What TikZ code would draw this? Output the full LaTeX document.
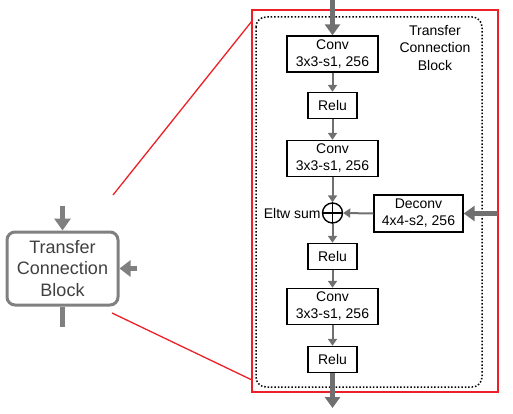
\documentclass[tikz,border=0pt]{standalone}
\usepackage{fontspec}
\setmainfont{Liberation Sans}
\usetikzlibrary{positioning,calc,arrows.meta}
\definecolor{FlowGray}{RGB}{112,112,112}
\definecolor{FrameRed}{RGB}{236,32,40}
\definecolor{BlockGray}{RGB}{128,128,128}
\definecolor{TextGray}{RGB}{64,64,64}
\tikzset{
	layer/.style={draw=black,line width=1.4pt,fill=white,inner sep=0pt,align=center,
		font=\fontsize{14}{17}\selectfont},
	conv/.style={layer,minimum width=91pt,minimum height=36pt},
	relu/.style={layer,minimum width=49pt,minimum height=26pt},
	flow/.style={draw=FlowGray,line width=2pt,-{Triangle[length=7pt,width=9pt]}},
	bigflow/.style={draw=FlowGray,line width=5pt,-{Triangle[length=11pt,width=15pt]}},
	frame/.style={draw=FrameRed,line width=1.3pt},
}

\begin{document}
\begin{tikzpicture}[x=1pt,y=-1pt]
			\useasboundingbox (0,0) rectangle (513,414);
			% zoomed block
			\draw[frame] (252,10) rectangle (498,392);
			\draw[line width=1.5pt,dash pattern=on 1.5pt off 1.9pt,rounded corners=10pt] (256,17) rectangle (482,387);
			\node[font=\fontsize{14}{17.5}\selectfont,align=center] (title) at (435,48) {Transfer\\Connection\\Block};
			\node[conv] (conv1) at (332.5,54) {Conv\\3x3-s1, 256};
			\node[relu] (relu1) at (332.5,105.5) {Relu};
			\node[conv] (conv2) at (332.5,158.5) {Conv\\3x3-s1, 256};
			\node[circle,draw=black,line width=1.4pt,minimum size=20pt,inner sep=0pt] (sum) at (332.5,213) {};
			\draw[line width=1.4pt] (sum.north)--(sum.south) (sum.west)--(sum.east);
			\node[font=\fontsize{14}{17}\selectfont,anchor=east,inner sep=1pt] (sumlabel) at (sum.west) {Eltw sum};
			\node[conv,minimum width=89pt,minimum height=37pt] (deconv) at (418.5,213.5) {Deconv\\4x4-s2, 256};
			\node[relu] (relu2) at (332.5,256.5) {Relu};
			\node[conv] (conv3) at (332.5,306.5) {Conv\\3x3-s1, 256};
			\node[relu] (relu3) at (332.5,359.5) {Relu};
			\foreach \x/\y in {conv1/relu1,relu1/conv2,conv2/sum,sum/relu2,relu2/conv3,conv3/relu3}
			\draw[flow] (\x.south)--(\y.north);
			\draw[flow] (deconv.west)--(sum.east);
			\coordinate (in) at (332.5,0);
			\coordinate (out) at (332.5,408);
			\coordinate (side) at (498,213.5);
			\draw[bigflow] (in)--(conv1.north);
			\draw[bigflow] (relu3.south)--(out);
			\draw[bigflow] (side)--(deconv.east);
			% small block
			\node[draw=BlockGray,line width=3pt,rounded corners=8pt,fill=white,text=TextGray,
				minimum width=111pt,minimum height=73pt,inner sep=0pt,align=center,
				font=\fontsize{18}{21.5}\selectfont] (tcb) at (62.5,268.5) {Transfer\\Connection\\Block};
			\coordinate (tcbin) at (62.5,206);
			\coordinate (tcbside) at (137,268.5);
			\coordinate (tcbout) at (62.5,327);
			\draw[draw=BlockGray,line width=4.5pt,-{Triangle[length=12pt,width=16pt]}] (tcbin)--(tcb.north);
			\draw[draw=BlockGray,line width=4.5pt,-{Triangle[length=11pt,width=16pt]}] (tcbside)--(tcb.east);
			\draw[draw=BlockGray,line width=4.5pt] (tcb.south)--(tcbout);
			% zoom lines
			\coordinate (za) at (113,195);
			\coordinate (zb) at (252,21);
			\coordinate (zc) at (112,313);
			\coordinate (zd) at (252,380);
			\draw[frame] (za)--(zb);
			\draw[frame] (zc)--(zd);
		\end{tikzpicture}
\end{document}
